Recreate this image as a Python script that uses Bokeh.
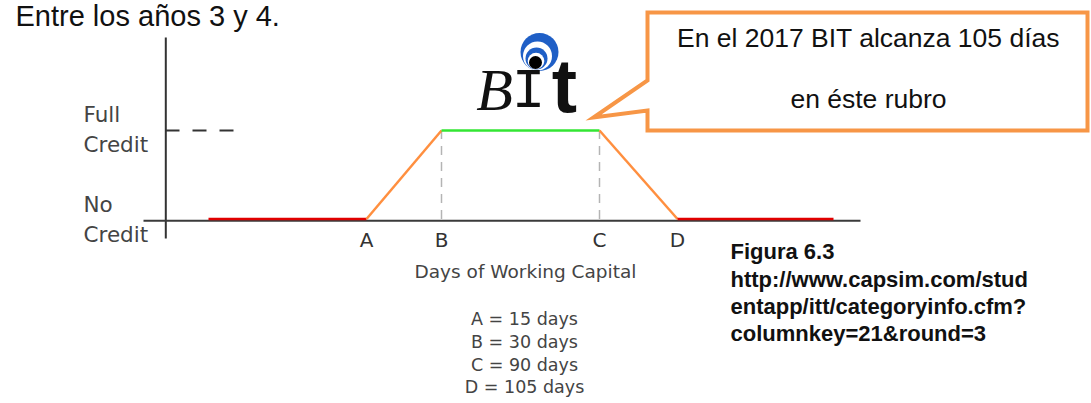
from bokeh.plotting import figure
from bokeh.models import Range1d
from bokeh.core.properties import value
from bokeh.embed import file_html
from bokeh.resources import INLINE

# ---------------- data ----------------
stage_labels = ["A", "B", "C", "D"]
stage_days = [15, 30, 90, 105]
stage_x = [366, 441, 599, 677]          # positions on the schematic days axis
curve_x = [208, 366, 441, 599, 677, 833]  # breakpoints of the credit curve
credit = [0, 0, 1, 1, 0, 0]               # 0 = No Credit, 1 = Full Credit
segment_colors = ["#e00000", "#ff8f3f", "#33e633", "#ff8f3f", "#e00000"]
y_labels = [("Full", "Credit"), ("No", "Credit")]
x_title = "Days of Working Capital"
callout_lines = ["En el 2017 BIT alcanza 105 días", "en éste rubro"]
heading = "Entre los años 3 y 4."
figure_note = ["Figura 6.3", "http://www.capsim.com/stud",
               "entapp/itt/categoryinfo.cfm?", "columnkey=21&round=3"]

# ---------------- layout helpers ----------------
W, H = 1091, 403
SHIFT = 0.375  # observed baseline offset of svg text, in em


def Y(py):
    """picture pixel row -> credit units"""
    return (218.5 - py) / 88.5


def TY(py, size):
    """wanted baseline row of a text -> credit units"""
    return Y(py - SHIFT * size)


p = figure(width=W, height=H, x_range=Range1d(0, W), y_range=Range1d(Y(H), Y(0)),
           output_backend="svg", toolbar_location=None,
           x_axis_location=None, y_axis_location=None, min_border=0,
           outline_line_color=None, background_fill_color="white",
           border_fill_color="white")
p.grid.visible = False


def txt(x, py, s, size, font="DejaVu Sans", color="#444444", align="left", style="normal"):
    p.text(x=[x], y=[TY(py, size)], text=[s], text_font=value(font),
           text_font_size=f"{size}px", text_color=color, text_align=align,
           text_baseline="alphabetic", text_font_style=style)


# heading
txt(15, 26, heading, 29, font="Liberation Sans", color="#111111")

# axes
p.line([165.3, 165.3], [Y(37), Y(238)], line_color="#333333", line_width=2)
p.line([143, 860], [Y(220.3), Y(220.3)], line_color="#3a3a3a", line_width=2)
# full-credit marker dashes
p.line([165, 234], [credit[2], credit[2]], line_color="#333333", line_width=2, line_dash="14 13")

# guides at B and C
p.segment(x0=stage_x[1:3], y0=[0, 0], x1=stage_x[1:3], y1=[1, 1],
          line_color="#b4b4b4", line_width=1.5, line_dash="9 7")

# credit curve
p.segment(x0=curve_x[:-1], y0=credit[:-1], x1=curve_x[1:], y1=credit[1:],
          line_color=segment_colors, line_width=2.5)

# y labels
txt(83, 122, y_labels[0][0], 21.5)
txt(83, 152, y_labels[0][1], 21.5)
txt(83, 212, y_labels[1][0], 21.5)
txt(83, 242, y_labels[1][1], 21.5)

# stage letters
p.text(x=stage_x, y=[TY(247, 20)] * 4, text=stage_labels, text_font=value("DejaVu Sans"),
       text_font_size="20px", text_color="#333333", text_align="center",
       text_baseline="alphabetic")

# axis title
txt(525, 278, x_title, 18.5, align="center")

# legend of days
legend = [f"{l} = {d} days" for l, d in zip(stage_labels, stage_days)]
p.text(x=[524] * 4, y=[TY(v, 17.5) for v in (325, 348, 371, 393.5)], text=legend,
       text_font=value("DejaVu Sans"), text_font_size="17.5px", text_color="#444444",
       text_align="center", text_baseline="alphabetic")

# figure note
for i, line in enumerate(figure_note):
    txt(730, 259.5 + 27.3 * i, line, 22, font="Liberation Sans", color="#111111", style="bold")

# BIT logo
p.circle(x=[539], y=[Y(51.5)], radius=19, fill_color="#1f5fc6", line_color=None)
p.circle(x=[537], y=[Y(55.5)], radius=14.5, fill_color="white", line_color=None)
p.circle(x=[536], y=[Y(58)], radius=11, fill_color="#1f5fc6", line_color=None)
p.circle(x=[535.5], y=[Y(60.5)], radius=8.3, fill_color="white", line_color=None)
p.circle(x=[535], y=[Y(62)], radius=6.5, fill_color="black", line_color=None)
txt(494, 112, "B", 60, font="Liberation Serif", color="#111111", align="center", style="italic")
txt(528, 112, "I", 56, font="Liberation Mono", color="#111111", align="center")
txt(564, 113, "t", 76, font="Liberation Sans", color="#111111", align="center", style="bold")

# callout
cx = [647, 1087, 1087, 647, 647, 593, 647]
cy = [12, 12, 130, 130, 110, 117, 80]
p.patch(cx, [Y(v) for v in cy], fill_color="white", line_color="#f79646",
        line_width=4, line_join="miter")
txt(868, 47, callout_lines[0], 26.5, font="Liberation Sans", color="#111111", align="center")
txt(868, 108, callout_lines[1], 26.5, font="Liberation Sans", color="#111111", align="center")

open("out.html", "w").write(file_html(p, INLINE))
